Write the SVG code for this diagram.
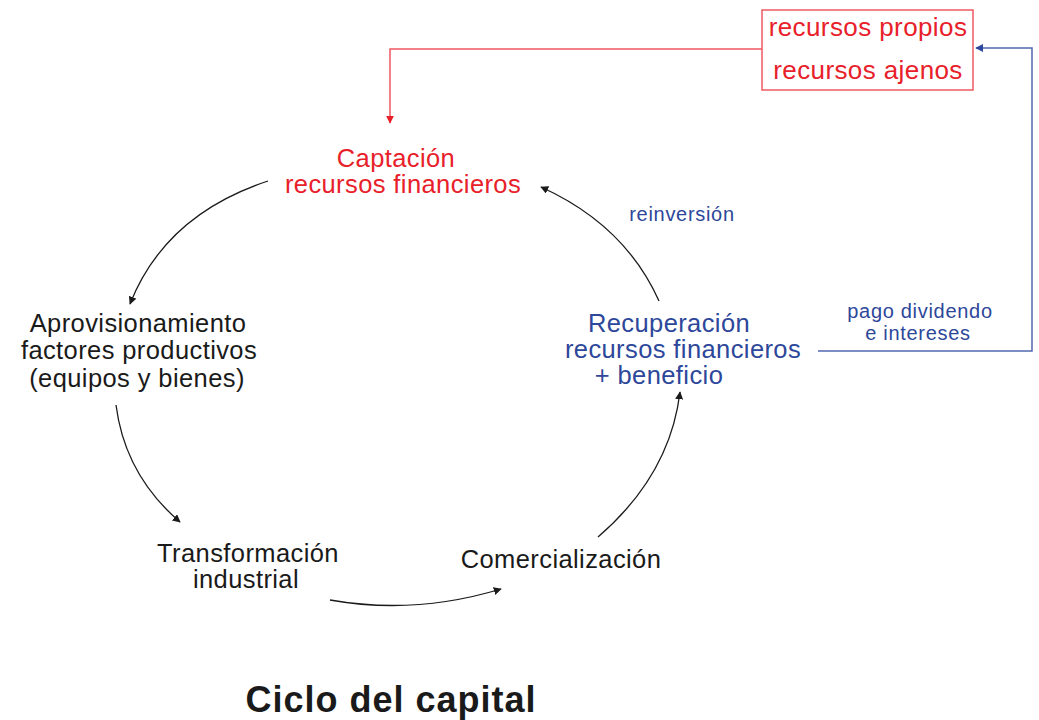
<svg xmlns="http://www.w3.org/2000/svg" width="1039" height="720" viewBox="0 0 1039 720">
<style>
text{font-family:"Liberation Sans",Arial,sans-serif;text-anchor:middle}
.big{font-size:25.5px;letter-spacing:0.4px}
.box{font-size:26px;letter-spacing:0.4px}
.sm{font-size:20px;letter-spacing:0.7px}
.red{fill:#e8202a}
.blue{fill:#2d479a}
.blk{fill:#1a1a1a}
.arc{fill:none;stroke:#1a1a1a;stroke-width:1.3}
</style>
<defs>
<marker id="ab" viewBox="0 0 10 10" refX="9" refY="5" markerWidth="8" markerHeight="8" markerUnits="userSpaceOnUse" orient="auto"><path d="M0,0 L10,5 L0,10 z" fill="#1a1a1a"/></marker>
<marker id="ar" viewBox="0 0 10 10" refX="9" refY="5" markerWidth="8" markerHeight="8" markerUnits="userSpaceOnUse" orient="auto"><path d="M0,0 L10,5 L0,10 z" fill="#e8202a"/></marker>
<marker id="abl" viewBox="0 0 10 10" refX="9" refY="5" markerWidth="8" markerHeight="8" markerUnits="userSpaceOnUse" orient="auto"><path d="M0,0 L10,5 L0,10 z" fill="#2d479a"/></marker>
</defs>
<rect width="1039" height="720" fill="#fff"/>
<g id="connectors">
<path d="M762,49 H390 V123" fill="none" stroke="#ee5a60" stroke-width="1.5" marker-end="url(#ar)"/>
<path d="M818,351 H1032 V48 H976" fill="none" stroke="#5068ae" stroke-width="1.5" marker-end="url(#abl)"/>
<path class="arc" d="M268,181 Q165,215 130,304" marker-end="url(#ab)"/>
<path class="arc" d="M116,405 Q125,475 180,522" marker-end="url(#ab)"/>
<path class="arc" d="M330,600 Q415,615 501,589" marker-end="url(#ab)"/>
<path class="arc" d="M598,537 Q670,475 680,392" marker-end="url(#ab)"/>
<path class="arc" d="M659,301 Q625,225 541,187" marker-end="url(#ab)"/>
</g>
<g id="fuentes">
<rect x="762" y="10" width="211" height="80" fill="#fff" stroke="#ee5a60" stroke-width="1.5"/>
<text class="box red" x="868" y="36">recursos propios</text>
<text class="box red" x="868" y="79">recursos ajenos</text>
</g>
<g id="captacion">
<text class="big red" x="396" y="167">Captación</text>
<text class="big red" x="403" y="193">recursos financieros</text>
</g>
<g id="aprovisionamiento">
<text class="big blk" x="138" y="332">Aprovisionamiento</text>
<text class="big blk" x="139" y="359">factores productivos</text>
<text class="big blk" x="137" y="387">(equipos y bienes)</text>
</g>
<g id="transformacion">
<text class="big blk" x="248" y="562">Transformación</text>
<text class="big blk" x="246" y="588">industrial</text>
</g>
<g id="comercializacion">
<text class="big blk" x="561" y="568">Comercialización</text>
</g>
<g id="recuperacion">
<text class="big blue" x="669" y="332">Recuperación</text>
<text class="big blue" x="683" y="358">recursos financieros</text>
<text class="big blue" x="659" y="384">+ beneficio</text>
</g>
<g id="labels">
<text class="sm blue" x="682" y="221">reinversión</text>
<text class="sm blue" x="920" y="318">pago dividendo</text>
<text class="sm blue" x="918" y="340">e intereses</text>
</g>
<text x="391" y="712" style="font-size:36px;font-weight:bold;letter-spacing:1px" class="blk">Ciclo del capital</text>
</svg>
